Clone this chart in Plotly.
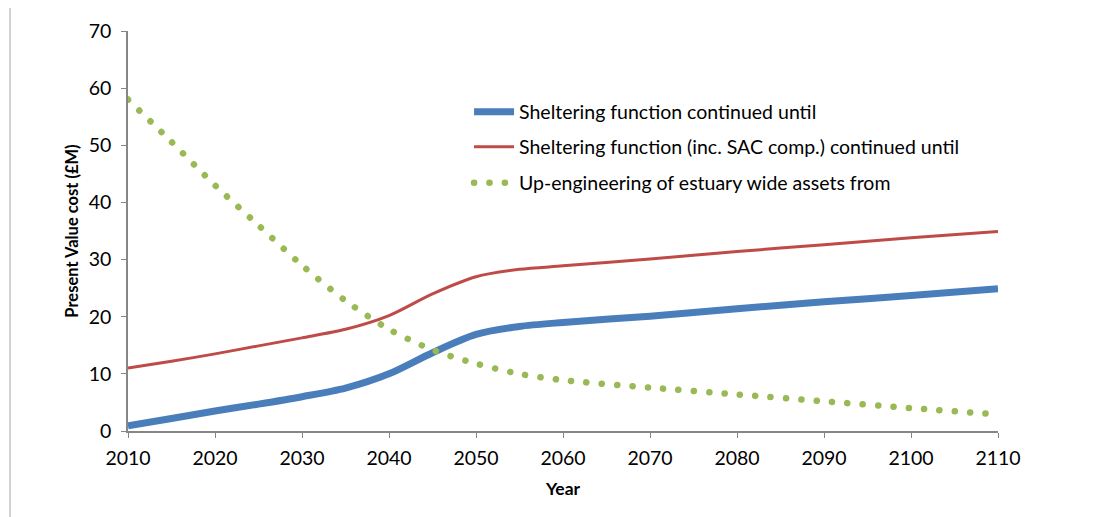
import plotly.graph_objects as go

years = [2010, 2015, 2020, 2025, 2030, 2035, 2040, 2045, 2050, 2055, 2060, 2070, 2080, 2090, 2100, 2110]
sheltering = [0.9, 2.2, 3.5, 4.7, 6.0, 7.5, 10.0, 13.7, 16.9, 18.3, 19.0, 20.1, 21.4, 22.6, 23.7, 24.9]
sheltering_sac = [11.0, 12.2, 13.5, 14.9, 16.3, 17.8, 20.2, 24.0, 27.0, 28.3, 28.9, 30.1, 31.4, 32.6, 33.8, 34.9]
upengineering = [58.0, 50.6, 43.0, 36.0, 29.0, 22.8, 17.8, 14.2, 11.8, 10.0, 8.9, 7.6, 6.4, 5.2, 4.0, 2.9]

names = ["Sheltering function continued until",
         "Sheltering function (inc. SAC comp.) continued until",
         "Up-engineering of estuary wide assets from"]

FONT = "Lato, Carlito, Calibri, sans-serif"
BLUE, RED, GREEN = "#4A7EBB", "#BE4B48", "#98B954"
FS = 19.5

fig = go.Figure()
fig.add_trace(go.Scatter(x=years, y=sheltering, mode="lines", name=names[0],
                         line=dict(color=BLUE, width=7, shape="spline", smoothing=0.8),
                         legend="legend"))
fig.add_trace(go.Scatter(x=years, y=sheltering_sac, mode="lines", name=names[1],
                         line=dict(color=RED, width=3, shape="spline", smoothing=0.8),
                         legend="legend2"))
fig.add_trace(go.Scatter(x=years, y=upengineering, mode="lines", name=names[2],
                         line=dict(color=GREEN, width=6.5, shape="spline", smoothing=0.8, dash="3px,12px"),
                         legend="legend3"))

leg_common = dict(font=dict(family=FONT, size=FS, color="#000000"), bgcolor="rgba(0,0,0,0)",
                  xanchor="left", yanchor="middle", itemwidth=40)
fig.update_layout(
    width=1107, height=517,
    margin=dict(l=128, r=109, t=31, b=86),
    paper_bgcolor="white", plot_bgcolor="white",
    font=dict(family=FONT, size=FS, color="#000000"),
    showlegend=True,
    legend=dict(x=0.392, y=(431 - 112) / 400, **leg_common),
    legend2=dict(x=0.392, y=(431 - 147) / 400, **leg_common),
    legend3=dict(x=0.392, y=(431 - 183) / 400, **leg_common),
    xaxis=dict(range=[2010, 2110], tickmode="linear", tick0=2010, dtick=10,
               showgrid=False, zeroline=False, showline=True, linecolor="#868686", linewidth=1.5,
               ticks="outside", ticklen=5, tickcolor="#868686", ticklabelstandoff=4,
               tickfont=dict(family=FONT, size=FS),
               title=dict(text="<b>Year</b>", font=dict(family=FONT, size=17.5), standoff=15)),
    yaxis=dict(range=[0, 70], tickmode="linear", tick0=0, dtick=10,
               showgrid=False, zeroline=False, showline=True, linecolor="#868686", linewidth=1.5,
               ticks="outside", ticklen=5, tickcolor="#868686", ticklabelstandoff=6,
               tickfont=dict(family=FONT, size=FS),
               title=dict(text="<b>Present Value cost (£M)</b>", font=dict(family=FONT, size=16.5), standoff=6)),
    shapes=[dict(type="line", xref="paper", yref="paper",
                 x0=(10 - 128) / 870, x1=(10 - 128) / 870,
                 y0=(431 - 8) / 400, y1=(431 - 517) / 400,
                 line=dict(color="#A6A6A6", width=1))],
)

post = """
function fixDots(){
  document.querySelectorAll('path').forEach(function(p){
    var s = p.style.stroke || '';
    if (s.replace(/\\s/g,'') === 'rgb(152,185,84)') {
      p.style.strokeLinecap = 'round';
      p.style.strokeDasharray = '0.1px, 15.3px';
    }
  });
}
fixDots();
var gd = document.getElementById('{plot_id}');
if (gd && gd.on) { gd.on('plotly_afterplot', fixDots); }
"""
fig.write_html("out.html", post_script=post)
